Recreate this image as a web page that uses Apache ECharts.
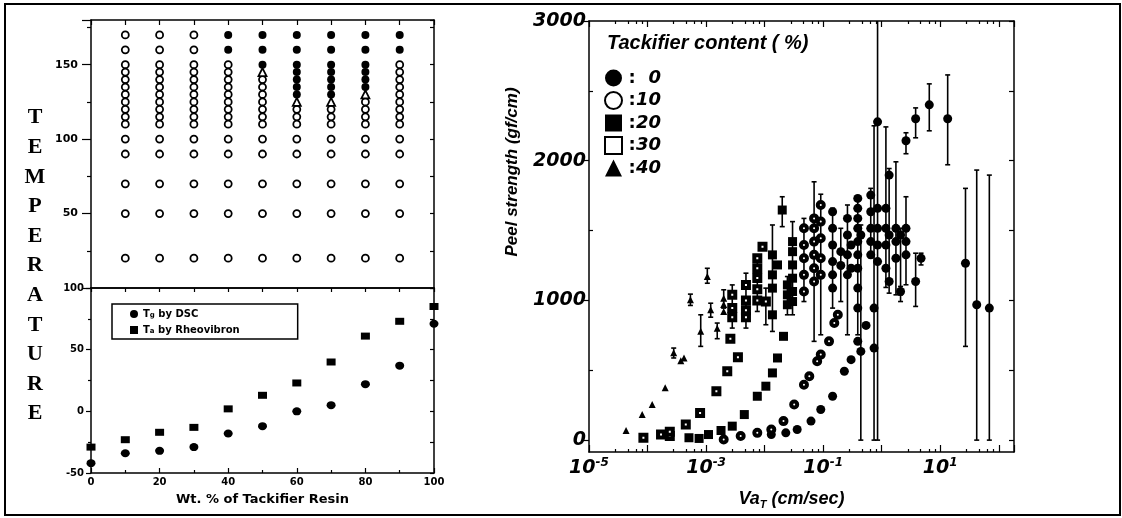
<!DOCTYPE html>
<html>
<head>
<meta charset="utf-8">
<script src="https://cdn.jsdelivr.net/npm/echarts@6/dist/echarts.min.js"></script>
<style>
  html, body { margin: 0; padding: 0; background: #fff; }
  #chart { width: 1122px; height: 518px; }
</style>
</head>
<body>
<div id="chart"></div>
<script>
// ---------- Phase map: test temperatures (°C) per tackifier wt.% ----------
const phaseOpen = {
  10: [170, 160, 150, 145, 140, 135, 130, 125, 120, 115, 110, 100, 90, 70, 50, 20],
  20: [170, 160, 150, 145, 140, 135, 130, 125, 120, 115, 110, 100, 90, 70, 50, 20],
  30: [170, 160, 150, 145, 140, 135, 130, 125, 120, 115, 110, 100, 90, 70, 50, 20],
  40: [150, 145, 140, 135, 130, 125, 120, 115, 110, 100, 90, 70, 50, 20],
  50: [140, 135, 130, 125, 120, 115, 110, 100, 90, 70, 50, 20],
  60: [120, 115, 110, 100, 90, 70, 50, 20],
  70: [120, 115, 110, 100, 90, 70, 50, 20],
  80: [125, 120, 115, 110, 100, 90, 70, 50, 20],
  90: [150, 145, 140, 135, 130, 125, 120, 115, 110, 100, 90, 70, 50, 20]
};
const phaseFilled = {
  40: [170, 160],
  50: [170, 160, 150],
  60: [170, 160, 150, 145, 140, 135, 130],
  70: [170, 160, 150, 145, 140, 135, 130],
  80: [170, 160, 150, 145, 140, 135],
  90: [170, 160]
};
const phaseTriangle = {
  50: [145],
  60: [125],
  70: [125],
  80: [130]
};

// ---------- Glass transition temperatures ----------
const wtPct  = [0, 10, 20, 30, 40, 50, 60, 70, 80, 90, 100];
const tgDSC  = [-42, -34, -32, -29, -18, -12, 0, 5, 22, 37, 71];
const taRheo = [-29, -23, -17, -13, 2, 13, 23, 40, 61, 73, 85];

// ---------- Peel strength master curves: [VaT (cm/s), gf/cm, errLow, errHigh] ----------
const peel0 = [
  [1.3e-2, 40], [2.3e-2, 52], [3.6e-2, 76], [6.2e-2, 136], [9.1e-2, 219], [0.145, 314],
  [0.23, 493], [0.30, 576], [0.39, 707], [0.44, 635], [0.54, 821],
  [0.145, 1635, 945, 1660], [0.145, 1516], [0.145, 1397], [0.145, 1278], [0.145, 1183], [0.145, 1088],
  [0.20, 1349, 992, 1516], [0.20, 1250],
  [0.26, 1587, 754, 1683], [0.26, 1468], [0.26, 1326], [0.26, 1183], [0.30, 1397], [0.30, 1230],
  [0.39, 1730, 754, 1742], [0.39, 1659], [0.39, 1587], [0.39, 1516], [0.39, 1421],
  [0.39, 1326], [0.39, 1230], [0.39, 1088], [0.39, 945],
  [0.44, 1468, 0, 1540],
  [0.65, 1754, 1306, 1802], [0.65, 1635], [0.65, 1516], [0.65, 1421], [0.65, 1326],
  [0.74, 945, 0, 2250], [0.74, 659],
  [0.85, 2278, 0, 3300], [0.85, 1659], [0.85, 1516], [0.85, 1397], [0.85, 1278],
  [1.18, 1659, 1093, 2242], [1.18, 1516], [1.18, 1397], [1.18, 1230],
  [1.34, 1897, 1052, 1944], [1.34, 1468], [1.34, 1135],
  [1.75, 1516, 1040, 1992], [1.75, 1421], [1.75, 1302],
  [2.1, 1468, 992, 1516], [2.1, 1064, 1040, 1100],
  [2.6, 1516, 1112, 1742], [2.6, 1421], [2.6, 1326],
  [3.8, 1135, 957, 1338], [4.7, 1302, 1254, 1338],
  [2.6, 2143, 2050, 2200], [3.8, 2300, 2164, 2378], [6.5, 2400, 2214, 2550], [13.4, 2300, 1971, 2614],
  [27, 1266, 671, 1802], [42, 969, 0, 1933], [69, 945, 0, 1897]
];
const peel10 = [
  [2.0e-3, 5], [3.9e-3, 29], [7.5e-3, 52], [1.3e-2, 76], [2.1e-2, 136], [3.2e-2, 255],
  [4.7e-2, 397], [5.8e-2, 457], [7.9e-2, 564], [9.1e-2, 612], [0.126, 707], [0.155, 838], [0.178, 897],
  [4.7e-2, 1516, 992, 1587], [4.7e-2, 1397], [4.7e-2, 1302], [4.7e-2, 1183], [4.7e-2, 1064],
  [7.0e-2, 1587, 707, 1849], [7.0e-2, 1516], [7.0e-2, 1421], [7.0e-2, 1326], [7.0e-2, 1230], [7.0e-2, 1135],
  [9.1e-2, 1683, 754, 1760], [9.1e-2, 1564], [9.1e-2, 1445], [9.1e-2, 1302], [9.1e-2, 1183]
];
const peel20 = [
  [5.1e-4, 17], [7.6e-4, 12], [1.1e-3, 40], [1.8e-3, 69], [2.8e-3, 100], [4.5e-3, 183],
  [7.5e-3, 314], [1.05e-2, 386], [1.36e-2, 481], [1.66e-2, 588], [2.1e-2, 743],
  [1.36e-2, 1326, 778, 1540], [1.36e-2, 1183], [1.36e-2, 1088], [1.36e-2, 897], [1.66e-2, 1254],
  [2.0e-2, 1647, 1528, 1742],
  [2.45e-2, 1111, 897, 1171], [2.45e-2, 1040], [2.45e-2, 969],
  [3.0e-2, 1421, 897, 1564], [3.0e-2, 1349], [3.0e-2, 1254], [3.0e-2, 1159], [3.0e-2, 1064], [3.0e-2, 992]
];
const peel30 = [
  [8.5e-5, 17], [1.7e-4, 40], [2.4e-4, 30], [2.4e-4, 60], [4.5e-4, 112], [7.9e-4, 195],
  [1.5e-3, 350], [2.3e-3, 493], [2.6e-3, 726], [3.5e-3, 593],
  [2.8e-3, 1040, 802, 1111], [2.8e-3, 945], [2.8e-3, 880],
  [4.8e-3, 1000, 802, 1195], [4.8e-3, 1110], [4.8e-3, 930], [4.8e-3, 880],
  [7.5e-3, 1302, 921, 1326], [7.5e-3, 1230], [7.5e-3, 1160], [7.5e-3, 1080], [7.5e-3, 1000],
  [9.2e-3, 1385], [1.05e-2, 992, 826, 1088]
];
const peel40 = [
  [4.3e-5, 69], [8.1e-5, 183], [1.2e-4, 255], [2.0e-4, 374], [2.8e-4, 625, 588, 659],
  [3.7e-4, 569], [4.2e-4, 588], [5.4e-4, 1004, 964, 1045], [8.1e-4, 780, 671, 897],
  [1.05e-3, 1171, 1123, 1230], [1.2e-3, 933, 880, 980], [1.55e-3, 800, 726, 838],
  [2.0e-3, 1016, 945, 1076], [2.0e-3, 970], [2.0e-3, 920]
];

const peelTicks  = [0, 1000, 2000, 3000];
const peelMinor  = [500, 1500, 2500];
const peelRightTicks = [0, 500, 1000, 1500, 2000, 2500, 3000];

// ---------- helpers ----------
const BLACK = '#000';
const SANS = '"DejaVu Sans", sans-serif';
const ARIAL = '"Liberation Sans", Arial, sans-serif';
const SERIF = '"Liberation Serif", "DejaVu Serif", serif';

function pairs(map) {
  const out = [];
  Object.keys(map).forEach(function (wt) {
    map[wt].forEach(function (t) { out.push([Number(wt), t]); });
  });
  return out;
}
function withErrors(arr) {
  return arr.filter(function (p) { return p.length === 4; })
            .map(function (p) { return [p[0], p[2], p[3]]; });
}
function points(arr) {
  return arr.map(function (p) { return [p[0], p[1]]; });
}
function errorBar(params, api) {
  const x = api.value(0);
  const top = api.coord([x, api.value(2)]);
  const bot = api.coord([x, api.value(1)]);
  const cap = 2.5;
  const st = { stroke: BLACK, lineWidth: 1.6 };
  return {
    type: 'group',
    children: [
      { type: 'line', shape: { x1: top[0], y1: top[1], x2: bot[0], y2: bot[1] }, style: st },
      { type: 'line', shape: { x1: top[0] - cap, y1: top[1], x2: top[0] + cap, y2: top[1] }, style: st },
      { type: 'line', shape: { x1: bot[0] - cap, y1: bot[1], x2: bot[0] + cap, y2: bot[1] }, style: st }
    ]
  };
}

const axLine = { show: true, onZero: false, lineStyle: { color: BLACK, width: 1.5 } };
const tickStyle = { color: BLACK, width: 1.2 };
const none = { show: false };

const leftLabel = { color: BLACK, fontFamily: SANS, fontWeight: 'bold', fontSize: 11 };
const rightLabel = { color: BLACK, fontFamily: SANS, fontWeight: 'bold', fontStyle: 'italic', fontSize: 19 };

const peelSeries = [
  { name: '0',  data: peel0,  symbol: 'circle',   size: 9, open: false },
  { name: '10', data: peel10, symbol: 'circle',   size: 6, open: true },
  { name: '20', data: peel20, symbol: 'rect',     size: 9, open: false },
  { name: '30', data: peel30, symbol: 'rect',     size: 6, open: true },
  { name: '40', data: peel40, symbol: 'triangle', size: 7, open: false }
];

const series = [
  // phase map
  { type: 'scatter', xAxisIndex: 0, yAxisIndex: 0, symbol: 'circle', symbolSize: 7,
    itemStyle: { color: '#fff', borderColor: BLACK, borderWidth: 1.8, opacity: 1 }, data: pairs(phaseOpen) },
  { type: 'scatter', xAxisIndex: 0, yAxisIndex: 0, symbol: 'circle', symbolSize: 8,
    itemStyle: { color: BLACK, opacity: 1 }, data: pairs(phaseFilled) },
  { type: 'scatter', xAxisIndex: 0, yAxisIndex: 0, symbol: 'triangle', symbolSize: 8,
    itemStyle: { color: '#fff', borderColor: BLACK, borderWidth: 1.8, opacity: 1 }, data: pairs(phaseTriangle) },
  // Tg / Ta
  { type: 'scatter', name: 'Tg by DSC', xAxisIndex: 2, yAxisIndex: 2, symbol: 'circle', symbolSize: [9, 8],
    itemStyle: { color: BLACK, opacity: 1 }, data: wtPct.map(function (w, i) { return [w, tgDSC[i]]; }) },
  { type: 'scatter', name: 'Ta by Rheovibron', xAxisIndex: 2, yAxisIndex: 2, symbol: 'rect', symbolSize: [9, 7],
    itemStyle: { color: BLACK, opacity: 1 }, data: wtPct.map(function (w, i) { return [w, taRheo[i]]; }) }
];

peelSeries.forEach(function (s) {
  series.push({
    type: 'custom', name: s.name + ' error', xAxisIndex: 4, yAxisIndex: 4, clip: true,
    renderItem: errorBar, encode: { x: 0, y: [1, 2] }, data: withErrors(s.data), z: 2
  });
});
peelSeries.forEach(function (s) {
  series.push({
    type: 'scatter', name: s.name, xAxisIndex: 4, yAxisIndex: 4, clip: true,
    symbol: s.symbol, symbolSize: s.size, z: 3,
    itemStyle: s.open ? { color: '#fff', borderColor: BLACK, borderWidth: 4, opacity: 1 }
                      : { color: BLACK, opacity: 1 },
    data: points(s.data)
  });
});

const legendRich = {
  t: { fontFamily: SANS, fontWeight: 'bold', fontSize: 10, color: BLACK },
  s: { fontFamily: SANS, fontWeight: 'bold', fontSize: 7, color: BLACK, verticalAlign: 'bottom' }
};
const legendText = {
  'Tg by DSC': '{t|T}{s|g}{t| by DSC}',
  'Ta by Rheovibron': '{t|T}{s|a}{t| by Rheovibron}'
};

const chart = echarts.init(document.getElementById('chart'), null, { renderer: 'canvas' });
chart.setOption({
  animation: false,
  backgroundColor: '#fff',
  grid: [
    { left: 91, top: 20, width: 343, height: 268 },
    { left: 91, top: 288, width: 343, height: 185 },
    { left: 589, top: 21, width: 425, height: 431 }
  ],
  xAxis: [
    { gridIndex: 0, type: 'value', min: 0, max: 100, position: 'bottom',
      axisLine: axLine, axisTick: none, axisLabel: none, splitLine: none },
    { gridIndex: 0, type: 'value', min: 0, max: 100, interval: 10, position: 'top',
      axisLine: axLine, axisTick: { inside: true, length: 5, lineStyle: tickStyle }, axisLabel: none, splitLine: none },
    { gridIndex: 1, type: 'value', min: 0, max: 100, interval: 20, position: 'bottom',
      axisLine: axLine, axisTick: { inside: true, length: 5, lineStyle: tickStyle },
      minorTick: { show: true, splitNumber: 2, length: 3, lineStyle: tickStyle },
      axisLabel: Object.assign({}, leftLabel, { margin: 4, fontSize: 10 }), splitLine: none,
      name: 'Wt. % of Tackifier Resin', nameLocation: 'middle', nameGap: 20,
      nameTextStyle: { color: BLACK, fontFamily: SANS, fontWeight: 'bold', fontSize: 13 } },
    { gridIndex: 1, type: 'value', min: 0, max: 100, interval: 10, position: 'top',
      axisLine: axLine, axisTick: { inside: true, length: 4, lineStyle: tickStyle }, axisLabel: none, splitLine: none },
    { gridIndex: 2, type: 'log', logBase: 10, min: 1e-5, max: 182, position: 'bottom',
      axisLine: axLine, axisTick: { inside: true, length: 7, lineStyle: tickStyle },
      minorTick: { show: true, splitNumber: 5, length: 3, lineStyle: tickStyle },
      axisLabel: {
        margin: 5,
        formatter: function (v) {
          const e = Math.round(Math.log10(v));
          return Math.abs(e) % 2 === 1 ? '{b|10}{e|' + e + '}' : '';
        },
        rich: {
          b: { color: BLACK, fontFamily: SANS, fontWeight: 'bold', fontStyle: 'italic', fontSize: 19, lineHeight: 22 },
          e: { color: BLACK, fontFamily: SANS, fontWeight: 'bold', fontStyle: 'italic', fontSize: 12, verticalAlign: 'top', lineHeight: 14 }
        }
      },
      splitLine: none,
      name: '{a|Va}{s|T}{a| (cm/sec)}', nameLocation: 'middle', nameGap: 36,
      nameTextStyle: {
        padding: [0, 20, 0, 0],
        rich: {
          a: { color: BLACK, fontFamily: ARIAL, fontWeight: 'bold', fontStyle: 'italic', fontSize: 18, lineHeight: 22 },
          s: { color: BLACK, fontFamily: ARIAL, fontWeight: 'bold', fontStyle: 'italic', fontSize: 11, verticalAlign: 'bottom', lineHeight: 16 }
        }
      } },
    { gridIndex: 2, type: 'log', logBase: 10, min: 1e-5, max: 182, position: 'top',
      axisLine: axLine, axisTick: { inside: true, length: 6, lineStyle: tickStyle },
      minorTick: { show: true, splitNumber: 5, length: 3, lineStyle: tickStyle },
      axisLabel: none, splitLine: none }
  ],
  yAxis: [
    { gridIndex: 0, type: 'value', min: 0, max: 180, interval: 50, position: 'left',
      axisLine: axLine, axisTick: { length: 9, lineStyle: tickStyle },
      minorTick: { show: true, splitNumber: 2, length: 4, lineStyle: tickStyle },
      axisLabel: Object.assign({}, leftLabel, { margin: 13, showMinLabel: false, showMaxLabel: false,
        formatter: function (v) { return (v > 0 && v % 50 === 0) ? String(v) : ''; } }),
      splitLine: none },
    { gridIndex: 0, type: 'value', min: 0, max: 180, interval: 25, position: 'right',
      axisLine: axLine, axisTick: { inside: true, length: 4, lineStyle: tickStyle }, axisLabel: none, splitLine: none },
    { gridIndex: 1, type: 'value', min: -50, max: 100, interval: 50, position: 'left',
      axisLine: axLine, axisTick: { length: 5, lineStyle: tickStyle },
      minorTick: { show: true, splitNumber: 2, length: 3, lineStyle: tickStyle },
      axisLabel: Object.assign({}, leftLabel, { margin: 7, fontSize: 10 }), splitLine: none },
    { gridIndex: 1, type: 'value', min: -50, max: 100, interval: 25, position: 'right',
      axisLine: axLine, axisTick: { inside: true, length: 4, lineStyle: tickStyle }, axisLabel: none, splitLine: none },
    { gridIndex: 2, type: 'value', min: -85, max: 3000, position: 'left',
      axisLine: axLine,
      axisTick: { length: 6, lineStyle: tickStyle, customValues: peelTicks },
      axisLabel: Object.assign({}, rightLabel, { margin: 3, customValues: peelTicks,
        formatter: function (v) { return String(v); } }),
      splitLine: none },
    { gridIndex: 2, type: 'value', min: -85, max: 3000, position: 'right',
      axisLine: axLine,
      axisTick: { inside: true, length: 5, lineStyle: tickStyle, customValues: peelRightTicks },
      axisLabel: none, splitLine: none },
    { gridIndex: 2, type: 'value', min: -85, max: 3000, position: 'left',
      axisLine: { show: false },
      axisTick: { inside: true, length: 4, lineStyle: tickStyle, customValues: peelMinor },
      axisLabel: none, splitLine: none }
  ],
  legend: [
    {
      left: 112, top: 304, orient: 'vertical', selectedMode: false,
      itemWidth: 8, itemHeight: 8, itemGap: 6,
      padding: [5, 58, 4, 18],
      borderColor: BLACK, borderWidth: 1.5,
      data: ['Tg by DSC', 'Ta by Rheovibron'],
      formatter: function (name) { return legendText[name]; },
      textStyle: { rich: legendRich }
    },
    {
      left: 604, top: 69, orient: 'vertical', selectedMode: false,
      itemWidth: 17, itemHeight: 17, itemGap: 4, padding: 0,
      data: [
        { name: '0',  icon: 'circle', itemStyle: { color: BLACK, borderWidth: 0 } },
        { name: '10', icon: 'circle', itemStyle: { color: '#fff', borderColor: BLACK, borderWidth: 2 } },
        { name: '20', icon: 'rect', itemStyle: { color: BLACK, borderWidth: 0 } },
        { name: '30', icon: 'rect', itemStyle: { color: '#fff', borderColor: BLACK, borderWidth: 2 } },
        { name: '40', icon: 'triangle', itemStyle: { color: BLACK, borderWidth: 0 } }
      ],
      formatter: function (name) { return '{c|:}{n|' + name + '}'; },
      textStyle: {
        rich: {
          c: { color: BLACK, fontFamily: SANS, fontWeight: 'bold', fontSize: 18, width: 10, align: 'center' },
          n: { color: BLACK, fontFamily: SANS, fontWeight: 'bold', fontStyle: 'italic', fontSize: 18, width: 24, align: 'right' }
        }
      }
    }
  ],
  graphic: [
    { type: 'rect', silent: true, z: 100,
      shape: { x: 5, y: 4, width: 1115, height: 511 },
      style: { fill: 'none', stroke: BLACK, lineWidth: 2 } },
    { type: 'text', silent: true, x: 35, y: 103,
      style: { text: 'T\nE\nM\nP\nE\nR\nA\nT\nU\nR\nE', fill: BLACK, font: 'bold 22px ' + SERIF,
        lineHeight: 29.6, textAlign: 'center', textVerticalAlign: 'top' } },
    { type: 'text', silent: true, x: 607, y: 43,
      style: { text: 'Tackifier content ( %)', fill: BLACK, font: 'italic bold 20px ' + ARIAL,
        textAlign: 'left', textVerticalAlign: 'middle' } },
    { type: 'text', silent: true, x: 512, y: 172, rotation: Math.PI / 2,
      style: { text: 'Peel strength (gf/cm)', fill: BLACK, font: 'italic bold 17px ' + ARIAL,
        textAlign: 'center', textVerticalAlign: 'middle' } }
  ],
  series: series
});
</script>
</body>
</html>
